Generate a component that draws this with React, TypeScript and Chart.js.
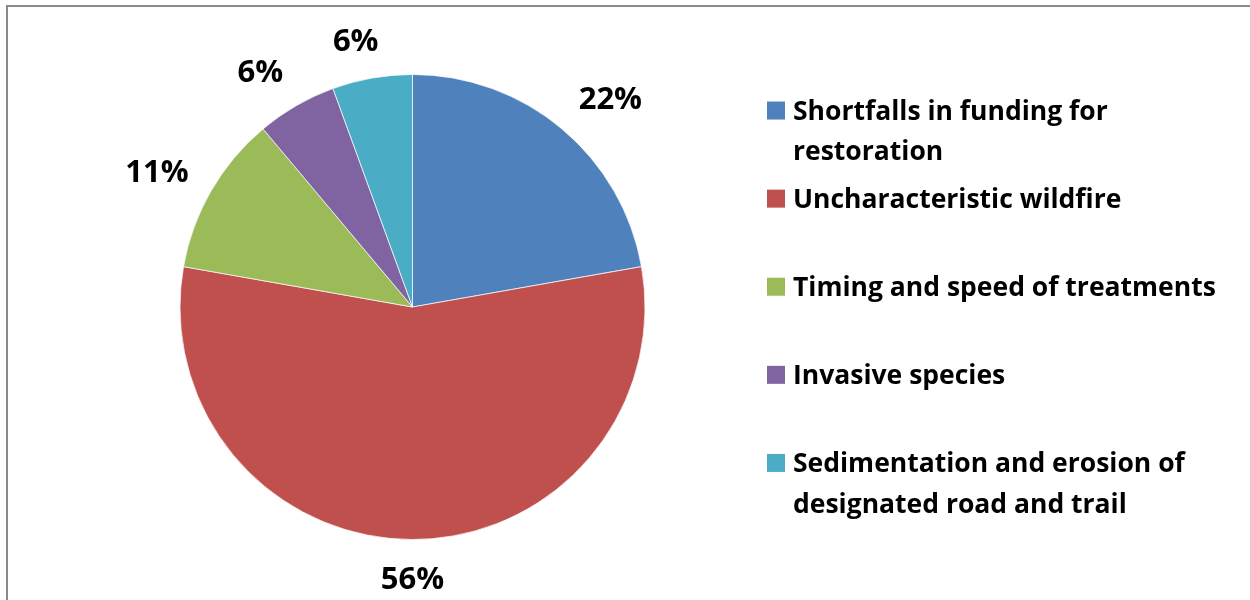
import React, { useEffect, useRef } from "react";
import { Chart, registerables } from "chart.js";

Chart.register(...registerables);

const categories: string[][] = [
  ["Shortfalls in funding for", "restoration"],
  ["Uncharacteristic wildfire"],
  ["Timing and speed of treatments"],
  ["Invasive species"],
  ["Sedimentation and erosion of", "designated road and trail"],
];
const responses: number[] = [4, 10, 2, 1, 1];
const colors: string[] = ["#4F81BD", "#C0504D", "#9BBB59", "#8064A2", "#4BACC6"];

const FONT = "'Open Sans', Lato, 'DejaVu Sans', sans-serif";
const CAP = 0.714;

const framePlugin = {
  id: "frame",
  beforeDraw(chart: any) {
    const ctx = chart.ctx;
    ctx.save();
    ctx.fillStyle = "#ffffff";
    ctx.fillRect(0, 0, chart.width, chart.height);
    ctx.strokeStyle = "#8a8a8a";
    ctx.lineWidth = 2;
    ctx.strokeRect(7, 6, chart.width + 20, chart.height + 20);
    ctx.restore();
  },
};

const pctPlugin = {
  id: "pctLabels",
  afterDatasetsDraw(chart: any) {
    const ctx = chart.ctx;
    const meta = chart.getDatasetMeta(0);
    const values: number[] = chart.data.datasets[0].data;
    const total = values.reduce((a, b) => a + b, 0);
    const size = 31;
    const capH = CAP * size;
    ctx.save();
    ctx.font = `bold ${size}px ${FONT}`;
    ctx.fillStyle = "#000000";
    ctx.textAlign = "center";
    ctx.textBaseline = "alphabetic";
    meta.data.forEach((arc: any, i: number) => {
      const p = arc.getProps(["startAngle", "endAngle", "outerRadius", "x", "y"], true);
      const mid = (p.startAngle + p.endAngle) / 2;
      const ux = Math.cos(mid);
      const uy = Math.sin(mid);
      const text = Math.round((values[i] / total) * 100) + "%";
      const w = ctx.measureText(text).width;
      const R = p.outerRadius + 26;
      const ax = Math.max(-1, Math.min(1, ux * 3));
      const ay = Math.max(-1, Math.min(1, uy * 1.15));
      const cx = p.x + ux * R + ax * (w / 2);
      const cy = p.y + uy * R + ay * 12;
      ctx.fillText(text, cx, cy + capH / 2);
    });
    ctx.restore();
  },
};

const legendPlugin = {
  id: "sideLegend",
  afterDraw(chart: any) {
    const ctx = chart.ctx;
    const labels: string[][] = chart.data.labels;
    const bg: string[] = chart.data.datasets[0].backgroundColor;
    const firstBaseline = 119.5;
    const step = 88.1;
    const lineH = 40.7;
    const size = 26.5;
    const capH = CAP * size;
    ctx.save();
    ctx.font = `bold ${size}px ${FONT}`;
    ctx.textAlign = "left";
    ctx.textBaseline = "alphabetic";
    labels.forEach((lines, i) => {
      const base = firstBaseline + i * step;
      const mid = base - capH / 2;
      ctx.fillStyle = bg[i];
      ctx.fillRect(767, mid - 8.5, 18, 18);
      ctx.fillStyle = "#000000";
      lines.forEach((ln, j) => ctx.fillText(ln, 793, base + j * lineH));
    });
    ctx.restore();
  },
};

export default function App() {
  const ref = useRef<HTMLCanvasElement | null>(null);
  useEffect(() => {
    if (!ref.current) return;
    const chart = new Chart(ref.current, {
      type: "pie",
      data: {
        labels: categories as any,
        datasets: [
          {
            data: responses,
            backgroundColor: colors,
            borderColor: "rgba(255,255,255,0.7)",
            borderWidth: 1,
          },
        ],
      },
      options: {
        responsive: false,
        animation: false,
        devicePixelRatio: 1,
        layout: { padding: { left: 179.5, top: 74, right: 604.5, bottom: 60 } },
        plugins: {
          legend: { display: false },
          tooltip: { enabled: false },
          title: { display: false },
        },
      },
      plugins: [framePlugin, pctPlugin, legendPlugin],
    });
    return () => chart.destroy();
  }, []);
  return (
    <div style={{ position: "absolute", left: 0, top: 0, width: 1250, height: 600, overflow: "hidden" }}>
      <canvas ref={ref} width={1250} height={600} style={{ display: "block" }} />
    </div>
  );
}
